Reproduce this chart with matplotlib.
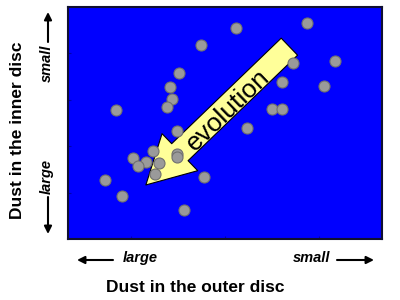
import matplotlib
matplotlib.use('Agg')
import matplotlib.pyplot as plt
from matplotlib.patches import FancyArrowPatch

plt.rcParams['font.family'] = ['Liberation Sans', 'DejaVu Sans']

# discs: outer-disc dust (x) vs inner-disc dust (y), arbitrary units 0-100
outer_dust = [53.4, 76.2, 42.4, 85.0, 71.6, 35.4, 68.1, 81.6, 32.4, 33.0,
              31.6, 15.3, 65.1, 68.2, 57.0, 34.6, 27.1, 34.8, 34.6, 20.6,
              24.7, 28.9, 22.2, 27.6, 43.3, 11.8, 17.1, 36.9]
inner_dust = [90.8, 93.0, 83.6, 76.9, 75.7, 71.4, 67.8, 66.1, 65.6, 60.2,
              56.8, 55.6, 55.9, 56.2, 47.7, 46.6, 38.1, 36.6, 35.5, 35.0,
              33.1, 32.9, 31.3, 27.9, 26.9, 25.3, 18.5, 12.5]

# evolution arrow, from tail to tip
evo_tail = (70.5, 82.9)
evo_tip = (24.8, 23.3)

fig = plt.figure(figsize=(4, 3), dpi=100)
ax = fig.add_axes([0.17, 0.2033, 0.785, 0.7734])
ax.set_facecolor('#0000ff')
ax.set_xlim(0, 100)
ax.set_ylim(0, 100)
ax.set_xticks([20, 50, 80])
ax.set_yticks([20, 40, 60, 80])
ax.tick_params(direction='in', length=2, color='#0000b0',
               labelbottom=False, labelleft=False)
for s in ax.spines.values():
    s.set_color('#101030')
    s.set_linewidth(1.5)

arr = FancyArrowPatch(evo_tail, evo_tip,
                      arrowstyle='simple,head_length=34,head_width=37,tail_width=17',
                      mutation_scale=1, shrinkA=0, shrinkB=0,
                      fc='#ffff99', ec='black', lw=0.8, zorder=2)
ax.add_patch(arr)
ax.text(51.0, 55.4, 'evolution', rotation=44, rotation_mode='anchor',
        ha='center', va='center', fontsize=19, color='black', zorder=3)

ax.scatter(outer_dust, inner_dust, s=63, c='#9a9a9a', edgecolors='#707070',
           linewidths=0.8, zorder=4)

# side labels and direction arrows (figure pixels)
def fig_arrow(start, end):
    ax.annotate('', xy=end, xytext=start, xycoords='figure pixels',
                textcoords='figure pixels', annotation_clip=False,
                arrowprops=dict(arrowstyle='-|>', color='black', lw=1.5,
                                mutation_scale=11, shrinkA=0, shrinkB=0))

fig_arrow((113, 40), (77, 40))
fig_arrow((337, 40), (374, 40))
fig_arrow((48, 258), (48, 288))
fig_arrow((48, 103), (48, 66))

fig.text(140 / 400, 42 / 300, 'large', ha='center', va='center',
         fontsize=10.5, fontweight='bold', style='italic')
fig.text(312 / 400, 42 / 300, 'small', ha='center', va='center',
         fontsize=10.5, fontweight='bold', style='italic')
fig.text(47 / 400, 237 / 300, 'small', ha='center', va='center', rotation=90,
         fontsize=10.5, fontweight='bold', style='italic')
fig.text(47 / 400, 123 / 300, 'large', ha='center', va='center', rotation=90,
         fontsize=10.5, fontweight='bold', style='italic')
fig.text(195 / 400, 13 / 300, 'Dust in the outer disc', ha='center', va='center',
         fontsize=12.5, fontweight='bold')
fig.text(18 / 400, 170 / 300, 'Dust in the inner disc', ha='center', va='center',
         rotation=90, fontsize=12.5, fontweight='bold')

fig.savefig('out.png', dpi=100)
